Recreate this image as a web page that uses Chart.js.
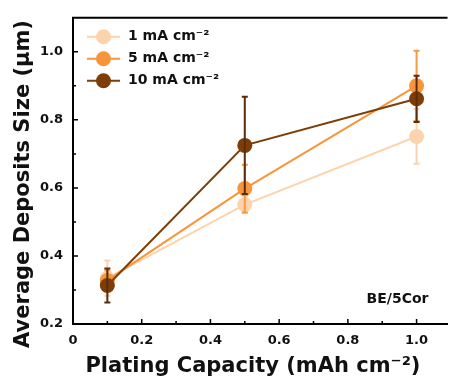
<!DOCTYPE html>
<html><head><meta charset="utf-8">
<script src="https://cdn.jsdelivr.net/npm/chart.js@4/dist/chart.umd.min.js"></script>
<style>html,body{margin:0;padding:0;background:#fff}#wrap{width:455px;height:380px}</style>
</head><body><div id="wrap"><canvas id="c" width="455" height="380"></canvas></div>
<script>
// ---- data ----
const capacity = [0.1, 0.5, 1.0];
const seriesLabels = ['1 mA cm\u207B\u00B2', '5 mA cm\u207B\u00B2', '10 mA cm\u207B\u00B2'];
const size1 = [0.335, 0.551, 0.751];
const err1 = [0.052, 0.025, 0.080];
const size5 = [0.328, 0.598, 0.900];
const err5 = [0.030, 0.070, 0.103];
const size10 = [0.313, 0.725, 0.862];
const err10 = [0.050, 0.143, 0.068];
const xTickValues = [0, 0.2, 0.4, 0.6, 0.8, 1.0];
const xMinorValues = [0.1, 0.3, 0.5, 0.7, 0.9];
const yTickValues = [0.2, 0.4, 0.6, 0.8, 1.0];
const yMinorValues = [0.3, 0.5, 0.7, 0.9];
const sampleLabel = 'BE/5Cor';
const xTitle = 'Plating Capacity (mAh cm\u207B\u00B2)';
const yTitle = 'Average Deposits Size (\u03BCm)';

const colors = ['#FDD3AC', '#F7953A', '#7E3D07'];
const errColors = ['#FBD2AE', '#F59A45', '#5A2C0C'];
const FONT = '"DejaVu Sans", "Liberation Sans", Arial, sans-serif';

function pts(ys){ return capacity.map((x,i)=>({x:x, y:ys[i]})); }
function mkDs(k, ys, es, order){
  return { label: seriesLabels[k], data: pts(ys), errorBars: es, errColor: errColors[k],
    borderColor: colors[k], backgroundColor: colors[k], pointBackgroundColor: colors[k],
    pointBorderColor: colors[k], pointBorderWidth: 0, pointRadius: 7.5, borderWidth: 2,
    tension: 0, order: order };
}

const errorBarPlugin = {
  id: 'errorBars',
  afterDatasetDraw(chart, args){
    const ds = chart.data.datasets[args.index];
    const meta = args.meta;
    const ys = chart.scales.y; const ctx = chart.ctx;
    ctx.save();
    ctx.strokeStyle = ds.errColor; ctx.lineWidth = 2;
    meta.data.forEach((el, i) => {
      const v = ds.data[i].y, e = ds.errorBars[i];
      const x = el.x, y1 = ys.getPixelForValue(v + e), y2 = ys.getPixelForValue(v - e);
      ctx.beginPath();
      ctx.moveTo(x, y1); ctx.lineTo(x, y2);
      ctx.moveTo(x-3, y1); ctx.lineTo(x+3, y1);
      ctx.moveTo(x-3, y2); ctx.lineTo(x+3, y2);
      ctx.stroke();
    });
    ctx.restore();
  }
};

const framePlugin = {
  id: 'frame',
  afterDraw(chart){
    const ctx = chart.ctx, a = chart.chartArea, xs = chart.scales.x, ys = chart.scales.y;
    ctx.save();
    ctx.strokeStyle = '#000'; ctx.lineWidth = 2;
    ctx.beginPath(); ctx.moveTo(a.left - 1, a.top); ctx.lineTo(a.right, a.top); ctx.stroke();
    ctx.lineWidth = 1.5;
    ctx.beginPath();
    xTickValues.forEach(v => { const p = xs.getPixelForValue(v); ctx.moveTo(p, a.bottom); ctx.lineTo(p, a.bottom - 5); });
    xMinorValues.forEach(v => { const p = xs.getPixelForValue(v); ctx.moveTo(p, a.bottom); ctx.lineTo(p, a.bottom - 3); });
    yTickValues.forEach(v => { const p = ys.getPixelForValue(v); ctx.moveTo(a.left, p); ctx.lineTo(a.left + 5, p); });
    yMinorValues.forEach(v => { const p = ys.getPixelForValue(v); ctx.moveTo(a.left, p); ctx.lineTo(a.left + 3, p); });
    ctx.stroke();
    // sample label
    ctx.fillStyle = '#111'; ctx.font = 'bold 14px ' + FONT;
    ctx.textAlign = 'right'; ctx.textBaseline = 'middle';
    ctx.fillText(sampleLabel, a.right - 19, a.bottom - 25);
    // legend
    const lx = a.left + 14, ly = a.top + 19, step = 22;
    [0,1,2].forEach((k, j) => {
      const ds = chart.data.datasets.find(d => d.label === seriesLabels[k]);
      const y = ly + j*step;
      ctx.strokeStyle = ds.borderColor; ctx.lineWidth = 2;
      ctx.beginPath(); ctx.moveTo(lx, y); ctx.lineTo(lx + 33, y); ctx.stroke();
      ctx.fillStyle = ds.backgroundColor;
      ctx.beginPath(); ctx.arc(lx + 16.5, y, 7.5, 0, Math.PI*2); ctx.fill();
      ctx.fillStyle = '#111'; ctx.font = 'bold 14px ' + FONT;
      ctx.textAlign = 'left'; ctx.textBaseline = 'middle';
      ctx.fillText(ds.label, lx + 41, y);
    });
    ctx.restore();
  }
};

new Chart(document.getElementById('c'), {
  type: 'line',
  data: { datasets: [ mkDs(0, size1, err1, 3), mkDs(1, size5, err5, 2), mkDs(2, size10, err10, 1) ] },
  options: {
    responsive: false, devicePixelRatio: 1, animation: false,
    layout: { padding: { top: 14, right: 0, left: 0, bottom: 0 } },
    plugins: { legend: { display: false }, tooltip: { enabled: false } },
    scales: {
      x: {
        type: 'linear', min: 0, max: 1.09,
        afterBuildTicks: s => { s.ticks = xTickValues.map(v => ({ value: v })); },
        afterFit: s => { s.height = 56; },
        grid: { display: false, drawTicks: false },
        border: { display: true, color: '#000', width: 2 },
        ticks: { color: '#111', padding: 9, font: { family: FONT, size: 13, weight: 'bold' },
          maxRotation: 0, autoSkip: false,
          callback: v => v === 0 ? '0' : v.toFixed(1) },
        title: { display: true, text: xTitle + '  ', color: '#111',
          font: { family: FONT, size: 21, weight: 'bold' }, padding: { top: 0, bottom: 1 } }
      },
      y: {
        type: 'linear', min: 0.2, max: 1.1,
        afterBuildTicks: s => { s.ticks = yTickValues.map(v => ({ value: v })); },
        afterFit: s => { s.width = 73; },
        grid: { display: false, drawTicks: false },
        border: { display: true, color: '#000', width: 2 },
        ticks: { color: '#111', padding: 10, font: { family: FONT, size: 13, weight: 'bold' },
          callback: v => v.toFixed(1) },
        title: { display: true, text: yTitle + '   \u2009', color: '#111',
          font: { family: FONT, size: 21, weight: 'bold' }, padding: { top: 11, bottom: 0 } }
      }
    }
  },
  plugins: [errorBarPlugin, framePlugin]
});
</script></body></html>
